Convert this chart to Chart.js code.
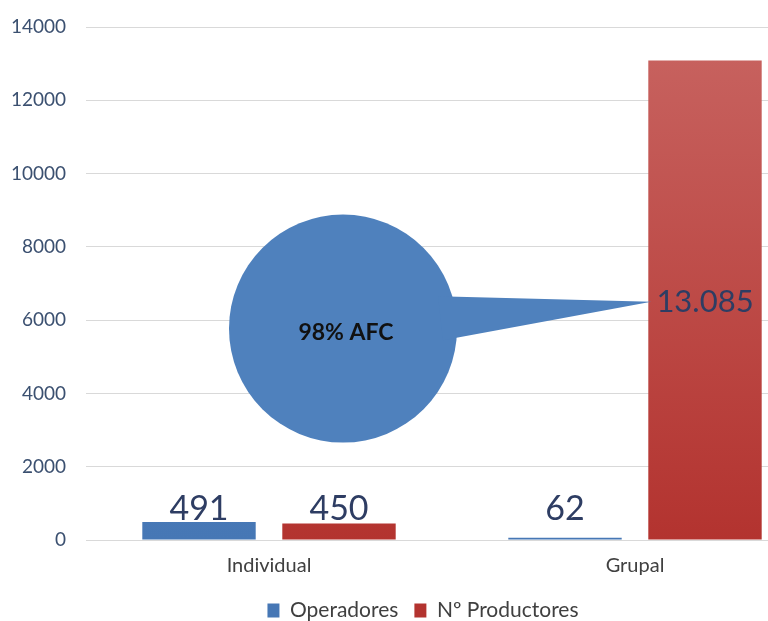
<!DOCTYPE html>
<html>
<head>
<meta charset="utf-8">
<script src="https://cdn.jsdelivr.net/npm/chart.js@4/dist/chart.umd.min.js"></script>
<style>
  body { margin: 0; background: #fff; }
  #wrap { width: 768px; height: 621px; overflow: hidden; }
</style>
</head>
<body>
<div id="wrap"><canvas id="myChart" width="818" height="621"></canvas></div>
<script>
var categories = ["Individual", "Grupal"]
var operadores = [491, 62]
var productores = [450, 13085]
var yTicks = [0, 2000, 4000, 6000, 8000, 10000, 12000, 14000]
var calloutText = "98% AFC"

function fmt(n) {
    return String(n).replace(/\B(?=(\d{3})+(?!\d))/g, ".")
}

function grad(ctx, top, bottom) {
    var area = ctx.chart.chartArea
    if (!area) return bottom
    var g = ctx.chart.ctx.createLinearGradient(0, area.top, 0, area.bottom)
    g.addColorStop(0, top)
    g.addColorStop(1, bottom)
    return g
}

// the picture is cropped on the right, so the legend sits a bit right of centre
var legendShift = {
    id: "legendShift",
    afterLayout: function(chart) {
        chart.legend.left += 14
        chart.legend.right += 14
    }
}

// labels above bars; the tall bar gets its label inside, with a speech bubble
var labelsPlugin = {
    id: "labels",
    afterDatasetsDraw: function(chart) {
        var c = chart.ctx
        var y = chart.scales.y
        var x = chart.scales.x
        c.save()
        c.fillStyle = "#2e3d63"
        c.textAlign = "center"
        var tip = null
        chart.data.datasets.forEach(function(ds, di) {
            chart.getDatasetMeta(di).data.forEach(function(bar, i) {
                var v = ds.data[i]
                if (v > 10000) {
                    c.font = "31px Lato"
                    c.textBaseline = "middle"
                    var ly = y.getPixelForValue(6500)
                    c.fillText(fmt(v), bar.x, ly)
                    tip = { x: bar.x - bar.width / 2 + 3, y: ly }
                } else {
                    c.font = "34px Lato"
                    c.textBaseline = "alphabetic"
                    c.fillText(fmt(v), bar.x, Math.min(bar.y - 2, y.getPixelForValue(540)))
                }
            })
        })
        if (tip) {
            var cx = x.getPixelForValue(0) + 74
            var cy = y.getPixelForValue(5770)
            var r = 114
            c.fillStyle = "#4f81bd"
            c.beginPath()
            c.arc(cx, cy, r, 0, Math.PI * 2)
            c.fill()
            c.beginPath()
            c.moveTo(cx + 95, y.getPixelForValue(6650))
            c.lineTo(tip.x, tip.y)
            c.lineTo(cx + 100, y.getPixelForValue(5450))
            c.closePath()
            c.fill()
            c.fillStyle = "#111"
            c.font = "bold 23px Lato"
            c.textBaseline = "middle"
            c.fillText(calloutText, cx + 3, cy + 4)
        }
        c.restore()
    }
}

var myChart = document.getElementById("myChart").getContext("2d")
var chart = new Chart(myChart, {
    type: "bar",
    data: {
        labels: categories,
        datasets: [
            {
                label: "Operadores",
                data: operadores,
                backgroundColor: function(ctx) { return grad(ctx, "#5a8bc6", "#4677b5") },
                categoryPercentage: 0.765,
                barPercentage: 0.81
            },
            {
                label: "Nº Productores",
                data: productores,
                backgroundColor: function(ctx) { return grad(ctx, "#c86461", "#b3332f") },
                categoryPercentage: 0.765,
                barPercentage: 0.81
            }
        ]
    },
    options: {
        responsive: false,
        devicePixelRatio: 1,
        animation: false,
        layout: { padding: { top: 27, right: 0, bottom: -10, left: 0 } },
        plugins: {
            tooltip: { enabled: false },
            legend: {
                position: "bottom",
                labels: {
                    boxWidth: 12,
                    boxHeight: 14,
                    padding: 16,
                    color: "#404040",
                    font: { family: "Lato", size: 21 }
                }
            }
        },
        scales: {
            x: {
                grid: { display: false },
                border: { display: false },
                ticks: { color: "#404040", padding: 6, font: { family: "Lato", size: 20 } }
            },
            y: {
                min: 0,
                max: 14000,
                afterBuildTicks: function(s) { s.ticks = yTicks.map(function(v) { return { value: v } }) },
                afterFit: function(s) {
                    s.width = 86
                    s.paddingTop = 0
                    s.paddingBottom = 0
                },
                grid: { color: "#d9d9d9", drawTicks: false },
                border: { display: false },
                ticks: {
                    color: "#3b5070",
                    padding: 20,
                    font: { family: "Lato", size: 19 },
                    callback: function(v) { return String(v) }
                }
            }
        }
    },
    plugins: [labelsPlugin, legendShift]
})
</script>
</body>
</html>
